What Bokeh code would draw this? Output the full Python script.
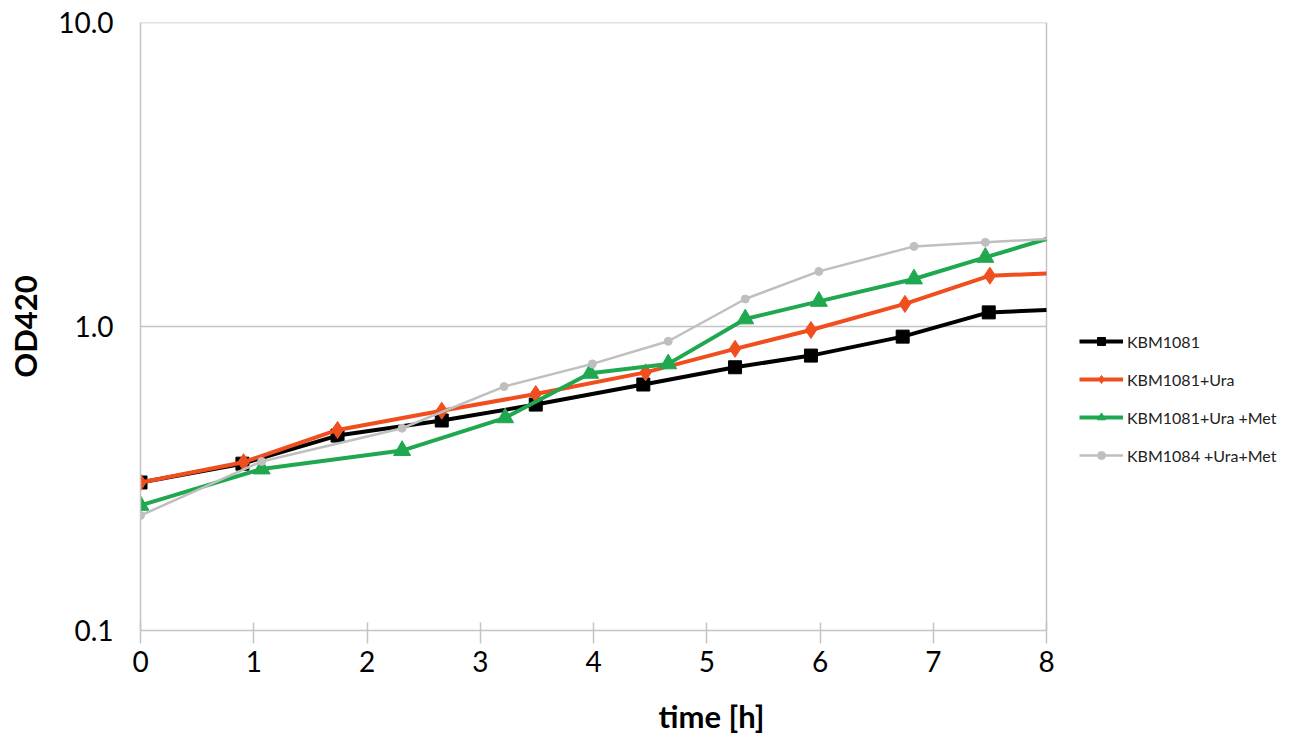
from bokeh.plotting import figure
from bokeh.models import FixedTicker, Legend, LegendItem, Range1d
from bokeh.embed import file_html
from bokeh.resources import INLINE

# time [h] and OD420 values (last value = where each line meets the right edge, no marker)
t_black = [0, 0.90, 1.74, 2.66, 3.49, 4.44, 5.25, 5.92, 6.73, 7.49, 8.0]
od_black = [0.307, 0.354, 0.438, 0.491, 0.554, 0.645, 0.735, 0.803, 0.927, 1.114, 1.135]

t_orange = [0, 0.91, 1.74, 2.66, 3.49, 4.46, 5.25, 5.92, 6.75, 7.50, 8.0]
od_orange = [0.307, 0.358, 0.457, 0.529, 0.600, 0.707, 0.845, 0.975, 1.188, 1.471, 1.497]

t_green = [0, 1.07, 2.31, 3.22, 3.97, 4.66, 5.34, 5.99, 6.83, 7.46, 8.0]
od_green = [0.258, 0.340, 0.391, 0.501, 0.702, 0.754, 1.060, 1.211, 1.435, 1.690, 1.943]

t_gray = [0, 1.07, 2.31, 3.21, 3.99, 4.66, 5.34, 5.99, 6.83, 7.46, 8.0]
od_gray = [0.239, 0.360, 0.463, 0.635, 0.754, 0.895, 1.233, 1.520, 1.837, 1.894, 1.943]

names = ["KBM1081", "KBM1081+Ura", "KBM1081+Ura +Met", "KBM1084 +Ura+Met"]
x_ticks = [0, 1, 2, 3, 4, 5, 6, 7, 8]
y_ticks = [0.1, 1.0, 10.0]
y_tick_labels = ["0.1", "1.0", "10.0"]

FONT = "Lato"
W, H = 1282, 737
LEFT, TOP, BOTTOM = 140, 22, 630
RIGHT_PX = 1046          # where x = 8 sits
X_MAX = 8
x_end = X_MAX * (W - LEFT) / (RIGHT_PX - LEFT)

p = figure(width=W, height=H, y_axis_type="log", output_backend="svg",
           toolbar_location=None, x_range=Range1d(0, x_end), y_range=Range1d(0.1, 10.02))
p.min_border_left = LEFT
p.min_border_top = TOP
p.min_border_right = 0
p.min_border_bottom = H - BOTTOM

p.outline_line_color = None
p.background_fill_color = "white"
p.border_fill_color = "white"

GRID = "#C4C4C4"
p.xgrid.ticker = FixedTicker(ticks=[X_MAX])
p.xgrid.grid_line_color = GRID
p.xgrid.grid_line_width = 1.5
p.ygrid.ticker = FixedTicker(ticks=y_ticks)
p.ygrid.cross_bounds = (0, X_MAX)
p.ygrid.grid_line_color = GRID
p.ygrid.grid_line_width = 1.5

p.xaxis.ticker = FixedTicker(ticks=x_ticks)
p.xaxis.bounds = (0, X_MAX)
p.yaxis.ticker = FixedTicker(ticks=y_ticks)
p.yaxis.major_label_overrides = {v: s for v, s in zip(y_ticks, y_tick_labels)}
for ax in (p.xaxis, p.yaxis):
    ax.axis_line_color = GRID
    ax.axis_line_width = 1.5
    ax.major_tick_line_color = GRID
    ax.major_tick_line_width = 1.5
    ax.minor_tick_line_color = None
    ax.major_label_text_font = FONT
    ax.major_label_text_font_size = "28px"
    ax.major_label_text_color = "black"
    ax.axis_label_text_font = FONT
    ax.axis_label_text_font_style = "bold"
    ax.axis_label_text_font_size = "31px"
    ax.axis_label_text_color = "black"

p.xaxis.major_tick_in = 8
p.xaxis.major_tick_out = 13
p.xaxis.major_label_standoff = 7
p.xaxis.axis_label = "time [h]"
p.xaxis.axis_label_standoff = 22

p.yaxis.major_tick_in = 0
p.yaxis.major_tick_out = 0
p.yaxis.major_label_standoff = 27
p.yaxis.axis_label = "OD420"
p.yaxis.axis_label_standoff = 11

series = [
    (t_black, od_black, "#000000", 4, "square", 13),
    (t_orange, od_orange, "#F04E1E", 4, "diamond", 17),
    (t_green, od_green, "#1FA84F", 4, "triangle", 17),
    (t_gray, od_gray, "#BFBFBF", 2.5, "circle", 8),
]

items = []
for (tx, ty, col, lw, mk, ms), nm in zip(series, names):
    r1 = p.line(tx, ty, line_color=col, line_width=lw)
    r2 = p.scatter(tx[:-1], ty[:-1], marker=mk, size=ms, fill_color=col, line_color=col)
    items.append(LegendItem(label=nm, renderers=[r1, r2]))

legend = Legend(items=items, location=(939, 165))
legend.label_text_font = FONT
legend.label_text_font_size = "16px"
legend.label_text_color = "#222222"
legend.glyph_width = 44
legend.glyph_height = 20
legend.spacing = 18
legend.label_standoff = 4
legend.padding = 4
legend.margin = 0
legend.border_line_color = None
legend.background_fill_alpha = 0
p.add_layout(legend, "center")

open("out.html", "w").write(file_html(p, INLINE))
